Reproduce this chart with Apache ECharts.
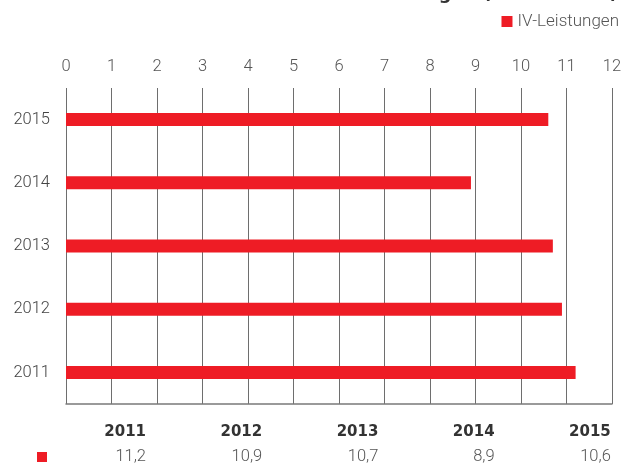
<!DOCTYPE html>
<html>
<head>
<meta charset="utf-8">
<script src="https://cdn.jsdelivr.net/npm/echarts@6/dist/echarts.min.js"></script>
<style>
  html, body { margin: 0; padding: 0; background: #fff; }
  #chart { width: 638px; height: 464px; }
</style>
</head>
<body>
<div id="chart"></div>
<script>
// Jahre und IV-Leistungen (in Mrd. CHF)
const years = ['2011', '2012', '2013', '2014', '2015'];
const leistungen = [11.2, 10.9, 10.7, 8.9, 10.6];
const xTicks = { min: 0, max: 12, interval: 1 };

const RED = '#ee1c25';
const FONT = 'Roboto, "Liberation Sans", sans-serif';
const BOLD_FONT = '"DejaVu Sans", sans-serif';

const fmt = v => v.toFixed(1).replace('.', ',');

// Tabelle unter dem Diagramm: Jahr (fett) und Wert
const tableGraphics = [];
years.forEach((y, i) => {
  const right = 146 + i * 116.2;
  tableGraphics.push({
    type: 'text', x: right, y: 432,
    style: { text: y, font: 'bold 15px ' + BOLD_FONT, fill: '#333', align: 'right', verticalAlign: 'middle' }
  });
  tableGraphics.push({
    type: 'text', x: right, y: 457,
    style: { text: fmt(leistungen[i]), font: '300 16.5px ' + FONT, fill: '#555', align: 'right', verticalAlign: 'middle' }
  });
});
tableGraphics.push({
  type: 'rect', shape: { x: 37, y: 452, width: 10, height: 10 }, style: { fill: RED }
});

const chart = echarts.init(document.getElementById('chart'), null, { renderer: 'canvas' });
chart.setOption({
  animation: false,
  title: {
    text: 'IV-Leistungen (in Mrd. CHF)',
    right: 15, top: -20,
    textStyle: { fontFamily: BOLD_FONT, fontWeight: 'bold', fontSize: 18, color: '#333' }
  },
  legend: {
    data: ['IV-Leistungen'],
    right: 14, top: 8,
    icon: 'rect', itemWidth: 11, itemHeight: 11, itemGap: 6,
    textStyle: { fontFamily: FONT, fontWeight: 300, fontSize: 17, color: '#555' }
  },
  grid: { left: 66, right: 26, top: 88, bottom: 60, containLabel: false },
  xAxis: [{
    type: 'value', position: 'top',
    min: xTicks.min, max: xTicks.max, interval: xTicks.interval,
    axisLine: { show: false }, axisTick: { show: false },
    axisLabel: { margin: 13, fontFamily: FONT, fontWeight: 300, fontSize: 16.5, color: '#555' },
    splitLine: { show: true, lineStyle: { color: '#6e6e6e', width: 1 } }
  }, {
    type: 'value', position: 'bottom',
    min: xTicks.min, max: xTicks.max, interval: xTicks.interval,
    axisLine: { show: true, onZero: false, lineStyle: { color: '#7a7a7a', width: 1.5 } },
    axisTick: { show: false }, axisLabel: { show: false }, splitLine: { show: false }
  }],
  yAxis: {
    type: 'category', data: years,
    axisLine: { show: false }, axisTick: { show: false },
    axisLabel: { margin: 16, fontFamily: FONT, fontWeight: 300, fontSize: 16.5, color: '#444' }
  },
  series: [{
    name: 'IV-Leistungen', type: 'bar', data: leistungen,
    barWidth: 13, itemStyle: { color: RED }
  }],
  graphic: tableGraphics
});
</script>
</body>
</html>
